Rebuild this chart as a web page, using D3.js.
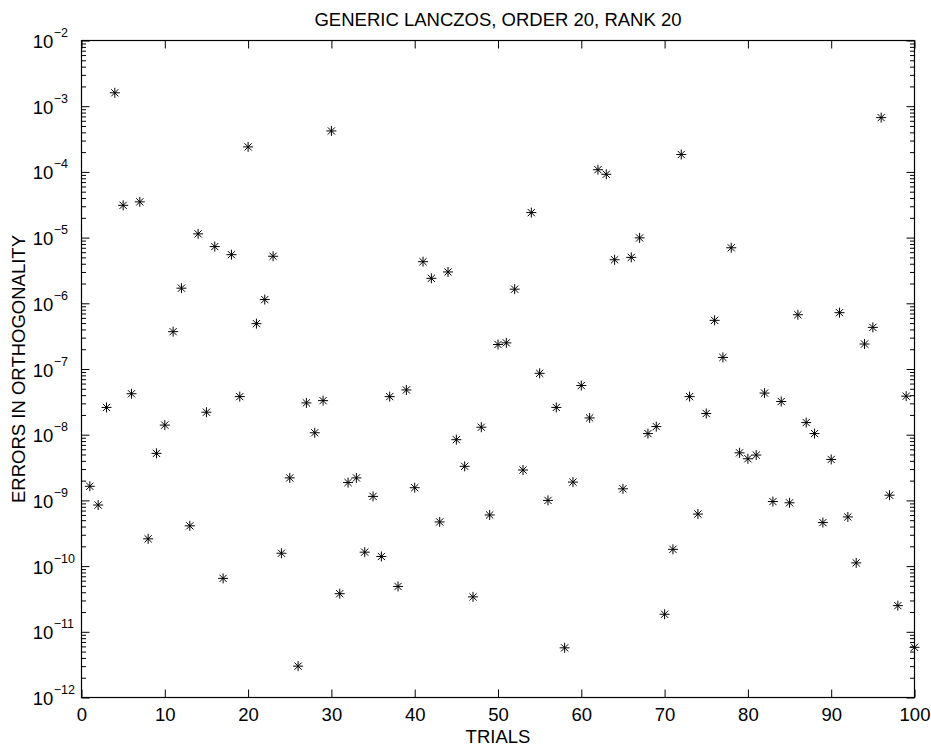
<!DOCTYPE html>
<html>
<head>
<meta charset="utf-8">
<script src="https://cdn.jsdelivr.net/npm/d3@7"></script>
<style>
  html, body { margin: 0; padding: 0; background: #fff; }
  svg { display: block; }
  text { font-family: "Liberation Sans", Arial, Helvetica, sans-serif; fill: #000; }
</style>
</head>
<body>
<svg id="chart" width="931" height="746"></svg>
<script>
// ---- data ----
const title = "GENERIC LANCZOS, ORDER 20, RANK 20";
const xLabel = "TRIALS";
const yLabel = "ERRORS IN ORTHOGONALITY";
const trials = [
  1,2,3,4,5,6,7,8,9,10,11,12,13,14,15,16,17,18,19,20,
  21,22,23,24,25,26,27,28,29,30,31,32,33,34,35,36,37,38,39,40,
  41,42,43,44,45,46,47,48,49,50,51,52,53,54,55,56,57,58,59,60,
  61,62,63,64,65,66,67,68,69,70,71,72,73,74,75,76,77,78,79,80,
  81,82,83,84,85,86,87,88,89,90,91,92,93,94,95,96,97,98,99,100
];
const errors = [
  1.64e-9, 8.5e-10, 2.6e-8, 1.6e-3, 3.1e-5, 4.2e-8, 3.5e-5, 2.6e-10, 5.2e-9, 1.4e-8,
  3.7e-7, 1.7e-6, 4.1e-10, 1.14e-5, 2.2e-8, 7.3e-6, 6.5e-11, 5.5e-6, 3.8e-8, 2.4e-4,
  4.9e-7, 1.14e-6, 5.2e-6, 1.57e-10, 2.2e-9, 3.0e-12, 3.05e-8, 1.07e-8, 3.3e-8, 4.2e-4,
  3.8e-11, 1.87e-9, 2.2e-9, 1.63e-10, 1.15e-9, 1.4e-10, 3.8e-8, 4.9e-11, 4.8e-8, 1.56e-9,
  4.3e-6, 2.4e-6, 4.7e-10, 3.0e-6, 8.4e-9, 3.3e-9, 3.4e-11, 1.3e-8, 6.0e-10, 2.36e-7,
  2.5e-7, 1.64e-6, 2.9e-9, 2.4e-5, 8.6e-8, 1.0e-9, 2.6e-8, 5.7e-12, 1.9e-9, 5.6e-8,
  1.8e-8, 1.08e-4, 9.2e-5, 4.6e-6, 1.5e-9, 5.0e-6, 9.9e-6, 1.04e-8, 1.33e-8, 1.85e-11,
  1.8e-10, 1.84e-4, 3.8e-8, 6.2e-10, 2.1e-8, 5.5e-7, 1.5e-7, 7.0e-6, 5.3e-9, 4.3e-9,
  4.9e-9, 4.3e-8, 9.6e-10, 3.2e-8, 9.2e-10, 6.7e-7, 1.53e-8, 1.04e-8, 4.6e-10, 4.2e-9,
  7.2e-7, 5.6e-10, 1.12e-10, 2.4e-7, 4.3e-7, 6.7e-4, 1.2e-9, 2.5e-11, 3.86e-8, 5.8e-12
];
const xTicks = [0, 10, 20, 30, 40, 50, 60, 70, 80, 90, 100];
const yTickExponents = [-2, -3, -4, -5, -6, -7, -8, -9, -10, -11, -12];
const xDomain = [0, 100];
const yDomain = [1e-12, 1e-2];

// ---- layout ----
const L = 81.5, R = 914.5, T = 40.5, B = 697.5;
const fontSize = 18.5, supSize = 12.5;
const majorLen = 8, minorLen = 4.5;

const svg = d3.select("#chart");
const x = d3.scaleLinear().domain(xDomain).range([L, R]);
const y = d3.scaleLog().domain(yDomain).range([B, T]);

const majorVals = yTickExponents.map(e => Math.pow(10, e));
const minorVals = y.ticks(50).filter(v => {
  const l = Math.log10(v);
  return Math.abs(l - Math.round(l)) > 1e-6;
});

function styleAxis(g) {
  g.select(".domain").remove();
  g.selectAll(".tick line").attr("stroke", "#000").attr("stroke-width", 1);
}

// x axes
svg.append("g").attr("transform", `translate(0,${B})`)
  .call(d3.axisBottom(x).tickValues(xTicks).tickSize(-majorLen).tickSizeOuter(0).tickPadding(10.5).tickFormat(d3.format("d")))
  .call(styleAxis)
  .call(g => g.selectAll("text").attr("font-size", fontSize).attr("font-family", "Liberation Sans, Arial, sans-serif").attr("fill", "#000"));
svg.append("g").attr("transform", `translate(0,${T})`)
  .call(d3.axisTop(x).tickValues(xTicks).tickSize(-majorLen).tickSizeOuter(0).tickFormat(""))
  .call(styleAxis);

// y axes (major + minor, left and right)
svg.append("g").attr("transform", `translate(${L},0)`)
  .call(d3.axisLeft(y).tickValues(majorVals).tickSize(-majorLen).tickSizeOuter(0).tickFormat(""))
  .call(styleAxis);
svg.append("g").attr("transform", `translate(${L},0)`)
  .call(d3.axisLeft(y).tickValues(minorVals).tickSize(-minorLen).tickSizeOuter(0).tickFormat(""))
  .call(styleAxis);
svg.append("g").attr("transform", `translate(${R},0)`)
  .call(d3.axisRight(y).tickValues(majorVals).tickSize(-majorLen).tickSizeOuter(0).tickFormat(""))
  .call(styleAxis);
svg.append("g").attr("transform", `translate(${R},0)`)
  .call(d3.axisRight(y).tickValues(minorVals).tickSize(-minorLen).tickSizeOuter(0).tickFormat(""))
  .call(styleAxis);

// y tick labels 10^e
const yl = svg.append("g");
yTickExponents.forEach(e => {
  const t = yl.append("text")
    .attr("x", 32.7)
    .attr("y", y(Math.pow(10, e)) + 7.5)
    .attr("font-size", fontSize);
  t.append("tspan").text("10");
  t.append("tspan").attr("font-size", supSize).attr("dy", -11).attr("dx", 0.5)
    .text("\u2212" + Math.abs(e));
});

// box
svg.append("rect")
  .attr("x", L).attr("y", T).attr("width", R - L).attr("height", B - T)
  .attr("fill", "none").attr("stroke", "#000").attr("stroke-width", 1.2);

// markers (asterisk)
const pts = trials.map((t, i) => ({ t, v: errors[i] }));
const mk = svg.append("g").attr("stroke", "#000").attr("stroke-width", 1).attr("fill", "none");
const arm = 5, diag = 3.6;
const starPath = `M${-arm},0H${arm}M0,${-arm}V${arm}M${-diag},${-diag}L${diag},${diag}M${-diag},${diag}L${diag},${-diag}`;
mk.selectAll("path").data(pts).join("path")
  .attr("transform", d => `translate(${x(d.t)},${y(d.v)})`)
  .attr("d", starPath);

// title and labels
svg.append("text").attr("x", (L + R) / 2).attr("y", 26).attr("text-anchor", "middle")
  .attr("font-size", fontSize).text(title);
svg.append("text").attr("x", (L + R) / 2).attr("y", 742.5).attr("text-anchor", "middle")
  .attr("font-size", fontSize).text(xLabel);
svg.append("text").attr("transform", `translate(25,${(T + B) / 2}) rotate(-90)`)
  .attr("text-anchor", "middle").attr("font-size", fontSize).text(yLabel);
</script>
</body>
</html>
